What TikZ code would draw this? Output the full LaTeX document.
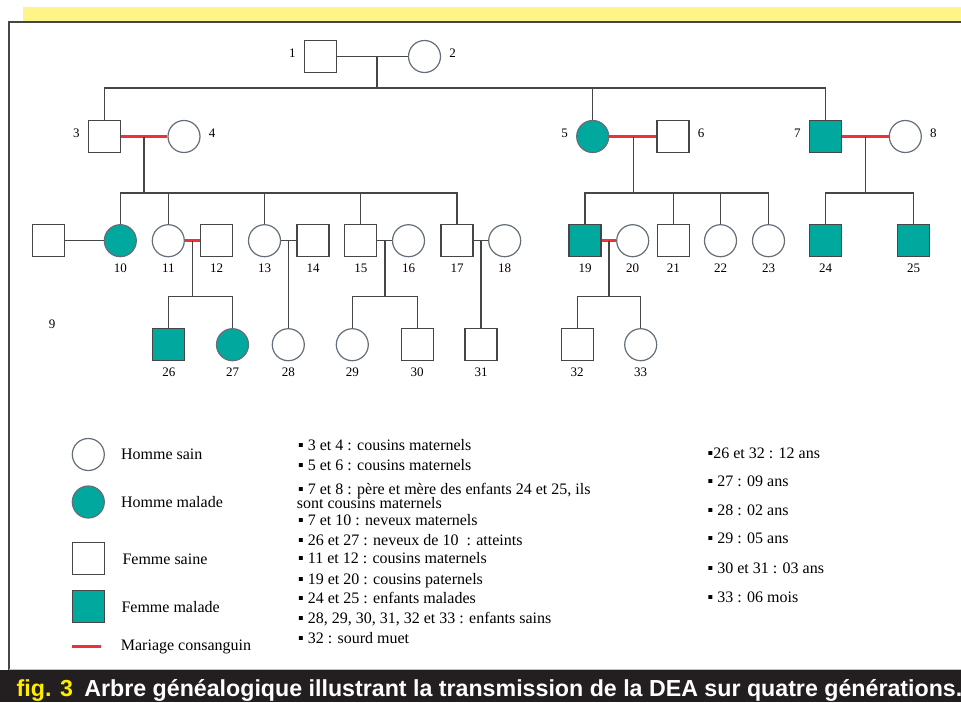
\documentclass[tikz,border=0pt]{standalone}
\usepackage{fontspec}
\setmainfont{Liberation Serif}
\newfontfamily\capfont{Liberation Sans}
\usetikzlibrary{positioning}

\definecolor{malade}{RGB}{0,168,157}
\definecolor{trait}{RGB}{70,70,70}
\definecolor{contour}{RGB}{100,110,120}
\definecolor{consang}{RGB}{237,50,55}
\definecolor{bande}{RGB}{255,244,135}
\definecolor{figjaune}{RGB}{255,237,0}
\definecolor{bandeau}{RGB}{35,31,32}

\tikzset{
  homme/.style={circle, draw=contour, line width=1.2pt, fill=white, minimum size=32pt, inner sep=0pt},
  femme/.style={rectangle, draw=trait, line width=1.2pt, fill=white, minimum size=32pt, inner sep=0pt},
  atteint/.style={fill=malade},
  num/.style={font=\fontsize{13}{13}\selectfont, inner sep=0pt},
  nomg/.style={label={[num, yshift=3pt, label distance=8pt]left:#1}},
  nomd/.style={label={[num, yshift=3pt, label distance=8pt]right:#1}},
  nomb/.style={label={[num, label distance=6pt]below:#1}},
  lien/.style={draw=trait, line width=1.2pt},
  consanguin/.style={draw=consang, line width=3.5pt},
  texte/.style={font=\fontsize{16}{18}\selectfont, inner sep=0pt},
  note/.style={texte, anchor=base west},
  titre/.style={font=\capfont\bfseries\fontsize{23.2}{24}\selectfont, inner sep=0pt, anchor=base west}
}

\begin{document}
\begin{tikzpicture}[x=1pt, y=-1pt]
\useasboundingbox (0,0) rectangle (961,702);

% bande jaune, cadre et bandeau
\fill[bande] (23,7) rectangle (961,22);
\draw[draw=trait, line width=2pt] (9,670) -- (9,22) -- (961,22);
\draw[gray!50, line width=0.8pt] (9,669.5) -- (961,669.5);
\fill[bandeau] (0,670) rectangle (961,702);

% generation I
\node[femme, nomg=1] (p1) at (320.5,56.5) {};
\node[homme, nomd=2] (p2) at (424.5,56.5) {};

% generation II
\node[femme, nomg=3] (p3) at (104.5,136.5) {};
\node[homme, nomd=4] (p4) at (184,136.5) {};
\node[homme, atteint, nomg=5] (p5) at (592.7,136.5) {};
\node[femme, nomd=6] (p6) at (673,136.5) {};
\node[femme, atteint, nomg=7] (p7) at (825.5,136.5) {};
\node[homme, nomd=8] (p8) at (905.3,136.5) {};

% generation III
\node[femme] (p9) at (48.7,240.7) {};
\node[homme, atteint, nomb=10] (p10) at (120.3,240.7) {};
\node[homme, nomb=11] (p11) at (168.3,240.7) {};
\node[femme, nomb=12] (p12) at (216.7,240.7) {};
\node[homme, nomb=13] (p13) at (264.5,240.7) {};
\node[femme, nomb=14] (p14) at (313,240.7) {};
\node[femme, nomb=15] (p15) at (360.8,240.7) {};
\node[homme, nomb=16] (p16) at (408.5,240.7) {};
\node[femme, nomb=17] (p17) at (457,240.7) {};
\node[homme, nomb=18] (p18) at (504.7,240.7) {};
\node[femme, atteint, nomb=19] (p19) at (585,240.7) {};
\node[homme, nomb=20] (p20) at (632.7,240.7) {};
\node[femme, nomb=21] (p21) at (673.3,240.7) {};
\node[homme, nomb=22] (p22) at (720.5,240.7) {};
\node[homme, nomb=23] (p23) at (768.5,240.7) {};
\node[femme, atteint, nomb=24] (p24) at (825.5,240.7) {};
\node[femme, atteint, nomb=25] (p25) at (913.7,240.7) {};
\node[num] (n9) at (52,324) {9};

% generation IV
\node[femme, atteint, nomb=26] (p26) at (168.8,344.7) {};
\node[homme, atteint, nomb=27] (p27) at (232.5,344.7) {};
\node[homme, nomb=28] (p28) at (288.3,344.7) {};
\node[homme, nomb=29] (p29) at (352.3,344.7) {};
\node[femme, nomb=30] (p30) at (417.2,344.7) {};
\node[femme, nomb=31] (p31) at (481,344.7) {};
\node[femme, nomb=32] (p32) at (577.2,344.7) {};
\node[homme, nomb=33] (p33) at (640.7,344.7) {};

% couple 1-2
\coordinate (m12) at (377,56.5);
\coordinate (f12) at (377,88);
\draw[lien] (p1) -- (p2);
\draw[lien] (m12) -- (f12);
\draw[lien] (p3) |- (f12) -| (p7);
\draw[lien] (p5) -- (p5 |- f12);

% couple 3-4
\coordinate (m34) at (144,136.5);
\coordinate (f34) at (144,193);
\draw[consanguin] (p3) -- (p4);
\draw[lien] (m34) -- (f34);
\draw[lien] (p10) |- (f34) -| (p17);
\foreach \e in {11,13,15}
  \draw[lien] (p\e) -- (p\e |- f34);

% couple 5-6
\coordinate (m56) at (633.3,136.5);
\coordinate (f56) at (633.3,193);
\draw[consanguin] (p5) -- (p6);
\draw[lien] (m56) -- (f56);
\draw[lien] (p19) |- (f56) -| (p23);
\foreach \e in {21,22}
  \draw[lien] (p\e) -- (p\e |- f56);

% couple 7-8
\coordinate (m78) at (865.7,136.5);
\coordinate (f78) at (865.7,193);
\draw[consanguin] (p7) -- (p8);
\draw[lien] (m78) -- (f78);
\draw[lien] (p24) |- (f78) -| (p25);

% couples de la generation III
\draw[lien] (p9) -- (p10);

\coordinate (m1112) at (192.7,240.7);
\coordinate (f1112) at (192.7,296.7);
\draw[consanguin] (p11) -- (p12);
\draw[lien] (m1112) -- (f1112);
\draw[lien] (p26) |- (f1112) -| (p27);

\draw[lien] (p13) -- (p14);
\draw[lien] (p28) -- (p28 |- p13);

\coordinate (m1516) at (385,240.7);
\coordinate (f1516) at (385,296.7);
\draw[lien] (p15) -- (p16);
\draw[lien] (m1516) -- (f1516);
\draw[lien] (p29) |- (f1516) -| (p30);

\draw[lien] (p17) -- (p18);
\draw[lien] (p31) -- (p31 |- p17);

\coordinate (m1920) at (609,240.7);
\coordinate (f1920) at (609,296.7);
\draw[consanguin] (p19) -- (p20);
\draw[lien] (m1920) -- (f1920);
\draw[lien] (p32) |- (f1920) -| (p33);

% legende des symboles
\node[homme] (leg1) at (88.3,454.5) {};
\node[texte, right=16pt of leg1] (tleg1) {Homme sain};
\node[homme, atteint] (leg2) at (88.3,502) {};
\node[texte, right=16pt of leg2] (tleg2) {Homme malade};
\node[femme] (leg3) at (88.7,558.8) {};
\node[texte, right=17pt of leg3] (tleg3) {Femme saine};
\node[femme, atteint] (leg4) at (88.7,606.7) {};
\node[texte, right=16pt of leg4] (tleg4) {Femme malade};
\coordinate (leg5a) at (72.3,646.7);
\coordinate (leg5b) at (101,646.7);
\draw[consanguin, line width=3pt] (leg5a) -- (leg5b);
\node[texte, right=19.7pt of leg5b] (tleg5) {Mariage consanguin};

% liens de parente
\node[note] (c1) at (298,450) {▪ 3 et 4 : cousins maternels};
\node[note] (c2) at (298,470) {▪ 5 et 6 : cousins maternels};
\node[note] (c3) at (298,494) {▪ 7 et 8 : père et mère des enfants 24 et 25, ils};
\node[note] (c3b) at (296.7,508) {sont cousins maternels};
\node[note] (c4) at (298,525) {▪ 7 et 10 : neveux maternels};
\node[note] (c5) at (298,545) {▪ 26 et 27 : neveux de 10\ \ : atteints};
\node[note] (c6) at (298,563.3) {▪ 11 et 12 : cousins maternels};
\node[note] (c7) at (298,584.3) {▪ 19 et 20 : cousins paternels};
\node[note] (c8) at (298,603.3) {▪ 24 et 25 : enfants malades};
\node[note] (c9) at (298,623.3) {▪ 28, 29, 30, 31, 32 et 33 : enfants sains};
\node[note] (c10) at (298,643.3) {▪ 32 : sourd muet};

% ages
\node[note] (a1) at (707.5,458.3) {▪26 et 32 : 12 ans};
\node[note] (a2) at (707.5,486.7) {▪ 27 : 09 ans};
\node[note] (a3) at (707.5,515.7) {▪ 28 : 02 ans};
\node[note] (a4) at (707.5,543.3) {▪ 29 : 05 ans};
\node[note] (a5) at (707.5,573.3) {▪ 30 et 31 : 03 ans};
\node[note] (a6) at (707.5,602.7) {▪ 33 : 06 mois};

% titre de la figure
\node[titre, text=figjaune] (fig) at (16.5,696.7) {fig. 3};
\node[titre, text=white] (legende) at ([xshift=11pt]fig.base east) {Arbre généalogique illustrant la transmission de la DEA sur quatre générations.};

\end{tikzpicture}
\end{document}
